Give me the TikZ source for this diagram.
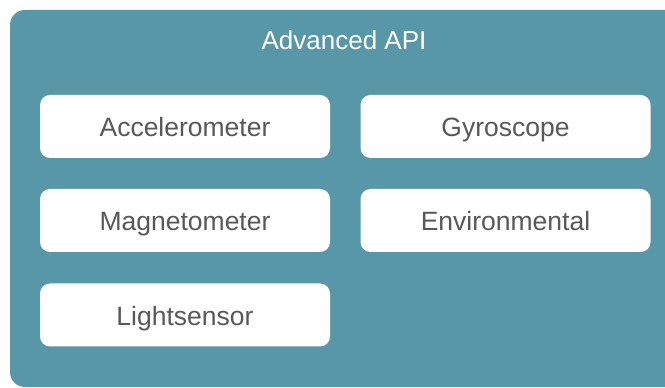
\documentclass[tikz,border=0pt]{standalone}
\usepackage{fontspec}
\setmainfont{Liberation Sans}
\definecolor{apiteal}{RGB}{88,151,168}
\definecolor{labelgrey}{RGB}{88,88,88}
\begin{document}
\begin{tikzpicture}[x=1pt,y=1pt,line join=round]
			\tikzset{sensor/.style={fill=white,rounded corners=10pt,minimum width=290pt,minimum height=63pt,inner sep=0pt,text height=20.5pt,text depth=0pt,text=labelgrey,font=\fontsize{26.5}{30}\selectfont}}
			\useasboundingbox (0,0) rectangle (665,388);
			\clip (0,0) rectangle (665,388);
			\fill[apiteal,rounded corners=15pt] (10,1) rectangle (700,378);
			\node[text=white,font=\fontsize{26}{30}\selectfont] (title) at (344,348) {Advanced API};
			\node[sensor] (accel) at (185,261.5) {Accelerometer};
			\node[sensor] (gyro) at (505.5,261.5) {Gyroscope};
			\node[sensor] (magnet) at (185,167.5) {Magnetometer};
			\node[sensor] (environ) at (505.5,167.5) {Environmental};
			\node[sensor] (light) at (185,73) {Lightsensor};
	\end{tikzpicture}
\end{document}
